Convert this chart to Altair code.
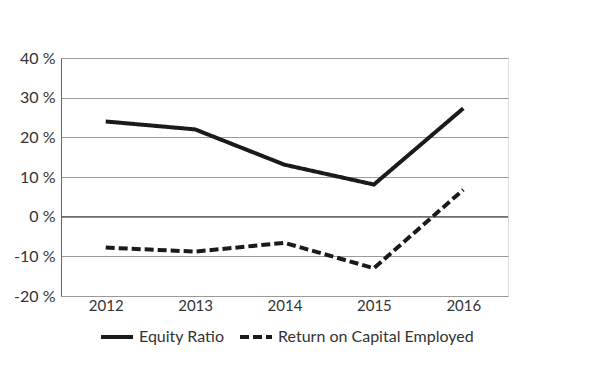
import altair as alt
import pandas as pd

years = ["2012", "2013", "2014", "2015", "2016"]
equity_ratio = [24.0, 22.0, 13.1, 8.1, 27.3]
roce = [-7.8, -8.8, -6.6, -13.0, 6.8]
series_names = ["Equity Ratio", "Return on Capital Employed"]
y_ticks = [-20, -10, 0, 10, 20, 30, 40]

rows = []
for y, v in zip(years, equity_ratio):
    rows.append({"year": y, "value": v, "series": series_names[0]})
for y, v in zip(years, roce):
    rows.append({"year": y, "value": v, "series": series_names[1]})
df = pd.DataFrame(rows)

FONT = "Lato"

x = alt.X("year:N", sort=years, title=None,
          scale=alt.Scale(type="point", padding=0.5),
          axis=alt.Axis(labelAngle=0, ticks=False, domain=False, grid=False,
                        labelFontSize=15, labelColor="#333333", labelFont=FONT,
                        labelPadding=2))
y = alt.Y("value:Q", title=None,
          scale=alt.Scale(domain=[-20, 40], nice=False),
          axis=alt.Axis(values=y_ticks, labelExpr="datum.value + ' %'",
                        labelOverlap=False,
                        ticks=False, domain=True, domainColor="#666666",
                        gridColor="#9a9a9a", gridWidth=1,
                        labelFontSize=16, labelColor="#333333", labelFont=FONT,
                        labelPadding=6))

lines = alt.Chart(df).mark_line(strokeWidth=4, color="#1a1a1a").encode(
    x=x, y=y,
    strokeDash=alt.StrokeDash("series:N", sort=series_names,
        scale=alt.Scale(domain=series_names, range=[[1, 0], [9, 4]]),
        legend=alt.Legend(title=None, orient="none", direction="horizontal",
                          legendX=38, legendY=261, symbolType="stroke",
                          symbolSize=1024, symbolStrokeWidth=4,
                          symbolStrokeColor="#1a1a1a", columnPadding=7,
                          labelFontSize=16, labelColor="#333333", labelFont=FONT,
                          labelLimit=400)),
)

zero = alt.Chart(pd.DataFrame({"value": [0]})).mark_rule(color="#555555", strokeWidth=1).encode(
    y=y
)

chart = alt.layer(zero, lines).properties(
    width=447, height=238,
    autosize=alt.AutoSizeParams(type="none"),
    padding={"left": 53, "top": 50, "right": 84, "bottom": 84},
).configure_view(stroke="#8a8a8a", strokeWidth=1).configure(background="white")

chart.save("out.html", embed_options={"renderer": "svg", "actions": False})
